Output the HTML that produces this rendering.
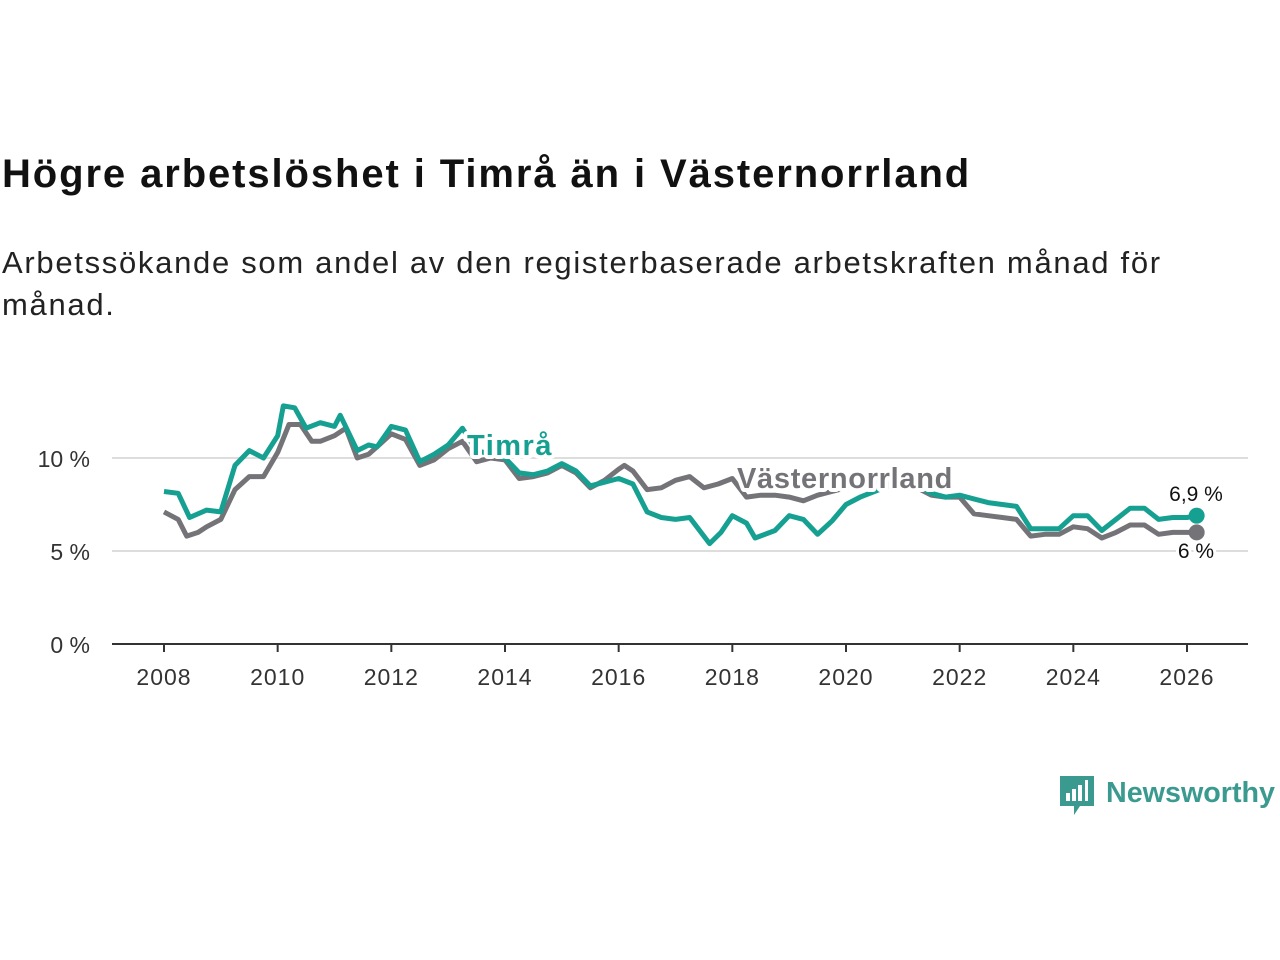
<!DOCTYPE html>
<html><head><meta charset="utf-8">
<style>
body{margin:0;width:1280px;height:960px;background:#fff;font-family:"Liberation Sans",sans-serif;overflow:hidden;position:relative}
h1{position:absolute;left:2px;top:152px;margin:0;font-size:40px;font-weight:bold;color:#111;letter-spacing:1.9px}
p{position:absolute;left:2px;top:242px;margin:0;font-size:31px;line-height:42px;color:#222;width:1270px;letter-spacing:1.7px}
svg{position:absolute;left:0;top:0}
</style></head><body>
<h1>Högre arbetslöshet i Timrå än i Västernorrland</h1>
<p>Arbetssökande som andel av den registerbaserade arbetskraften månad för<br>månad.</p>
<svg width="1280" height="960">
<g id="grid"></g><g id="lines"></g><g id="labels"></g>
<g>
<path d="M1060 776h34v30h-14l-6 9v-9h-14z" fill="#3a9a8f"/>
<rect x="1066" y="793" width="4" height="8" fill="#fff"/><rect x="1072" y="789" width="4" height="12" fill="#fff"/><rect x="1078" y="785" width="4" height="16" fill="#fff"/><rect x="1085" y="780" width="3" height="21" fill="#fff"/>
<text x="1106" y="802" font-size="29" font-weight="bold" fill="#3a9a8f" font-family="Liberation Sans, sans-serif" textLength="169" lengthAdjust="spacingAndGlyphs">Newsworthy</text>
</g>
</svg>
<script>
const timraX=[2008,2008.25,2008.45,2008.75,2009,2009.25,2009.5,2009.75,2010,2010.1,2010.3,2010.5,2010.75,2011,2011.1,2011.4,2011.6,2011.75,2012,2012.25,2012.5,2012.75,2013,2013.25,2013.5,2013.75,2014,2014.25,2014.5,2014.75,2015,2015.25,2015.5,2015.75,2016,2016.25,2016.5,2016.75,2017,2017.25,2017.6,2017.8,2018,2018.25,2018.4,2018.75,2019,2019.25,2019.5,2019.75,2020,2020.25,2020.5,2020.75,2021,2021.25,2021.5,2021.75,2022,2022.25,2022.5,2022.75,2023,2023.25,2023.5,2023.75,2024,2024.25,2024.5,2024.75,2025,2025.25,2025.5,2025.75,2026,2026.17];
const timraV=[8.2,8.1,6.8,7.2,7.1,9.6,10.4,10.0,11.2,12.8,12.7,11.6,11.9,11.7,12.3,10.4,10.7,10.6,11.7,11.5,9.8,10.2,10.7,11.6,10.4,10.2,10.0,9.2,9.1,9.3,9.7,9.3,8.5,8.7,8.9,8.6,7.1,6.8,6.7,6.8,5.4,6.0,6.9,6.5,5.7,6.1,6.9,6.7,5.9,6.6,7.5,7.9,8.2,8.5,8.6,8.5,8.1,7.9,8.0,7.8,7.6,7.5,7.4,6.2,6.2,6.2,6.9,6.9,6.1,6.7,7.3,7.3,6.7,6.8,6.8,6.9];
const vnX=[2008,2008.25,2008.4,2008.6,2008.75,2009,2009.25,2009.5,2009.75,2010,2010.2,2010.4,2010.6,2010.75,2011,2011.2,2011.4,2011.6,2011.75,2012,2012.25,2012.5,2012.75,2013,2013.25,2013.5,2013.75,2014,2014.25,2014.5,2014.75,2015,2015.25,2015.5,2015.75,2016,2016.1,2016.25,2016.5,2016.75,2017,2017.25,2017.5,2017.75,2018,2018.25,2018.5,2018.75,2019,2019.25,2019.5,2019.75,2020,2020.5,2021,2021.25,2021.5,2021.75,2022,2022.25,2022.5,2022.75,2023,2023.25,2023.5,2023.75,2024,2024.25,2024.5,2024.75,2025,2025.25,2025.5,2025.75,2026,2026.17];
const vnV=[7.1,6.7,5.8,6.0,6.3,6.7,8.3,9.0,9.0,10.3,11.8,11.8,10.9,10.9,11.2,11.6,10.0,10.2,10.6,11.3,11.0,9.6,9.9,10.5,10.9,9.8,10.0,9.9,8.9,9.0,9.2,9.6,9.2,8.4,8.8,9.4,9.6,9.3,8.3,8.4,8.8,9.0,8.4,8.6,8.9,7.9,8.0,8.0,7.9,7.7,8.0,8.2,8.4,8.7,8.5,8.4,8.0,7.9,7.9,7.0,6.9,6.8,6.7,5.8,5.9,5.9,6.3,6.2,5.7,6.0,6.4,6.4,5.9,6.0,6.0,6.0];
const yTicks=[0,5,10];
const yTickLabels=["0 %","5 %","10 %"];
const xTicks=[2008,2010,2012,2014,2016,2018,2020,2022,2024,2026];
const NS="http://www.w3.org/2000/svg";
const sx=v=>164+(v-2008)*(1187-164)/18;
const sy=v=>644-v*18.6;
function mk(tag,attrs,parent,txt){const e=document.createElementNS(NS,tag);for(const k in attrs)e.setAttribute(k,attrs[k]);if(txt!=null)e.textContent=txt;parent.appendChild(e);return e;}
const grid=document.getElementById('grid'),lines=document.getElementById('lines'),labels=document.getElementById('labels');
yTicks.forEach((t,i)=>{
  if(t>0){const l=mk('line',{x1:112,x2:1248,y1:sy(t),y2:sy(t),stroke:'#ddd','stroke-width':2},grid);
  
  }
  const tx=mk('text',{x:90,y:sy(t)+9,'text-anchor':'end','font-size':23,fill:'#333'},grid,yTickLabels[i]);
  
  
});
const ax=mk('line',{x1:112,x2:1248,y1:644,y2:644,stroke:'#333','stroke-width':2},grid);


xTicks.forEach(t=>{
  mk('line',{x1:sx(t),x2:sx(t),y1:644,y2:652,stroke:'#333','stroke-width':2},grid);
  const tx=mk('text',{x:sx(t),y:685,'text-anchor':'middle','font-size':23,fill:'#333','letter-spacing':1},grid,String(t));
  
  
});
function line(xs,vs,color,name){
  const d=xs.map((x,i)=>(i?'L':'M')+sx(x).toFixed(1)+' '+sy(vs[i]).toFixed(1)).join('');
  const p=mk('path',{d:d,fill:'none',stroke:color,'stroke-width':5,'stroke-linejoin':'round'},lines);
  
  
  const c=mk('circle',{cx:sx(xs[xs.length-1]),cy:sy(vs[vs.length-1]),r:8,fill:color},lines);
  
  
}
line(vnX,vnV,'#747378','vasternorrland');
line(timraX,timraV,'#16a092','timra');
function lab(x,y,txt,color,name,size,bold,anchor,ls){
  const t=mk('text',{x:x,y:y,'font-size':size,'font-weight':bold?'bold':'normal',fill:color,stroke:'#fff','stroke-width':bold?8:6,'paint-order':'stroke','stroke-linejoin':'round','text-anchor':anchor||'start','letter-spacing':ls||0},labels,txt);
  
  
}
lab(467,455,'Timrå','#16a092','timra-label',29,true,'start',1.5);
lab(737,488,'Västernorrland','#747378','vasternorrland-label',29,true,'start',0.7);
lab(1196,501,'6,9 %','#111','timra-end-value',21,false,'middle');
lab(1196,558,'6 %','#111','vasternorrland-end-value',21,false,'middle');
</script>
</body></html>
